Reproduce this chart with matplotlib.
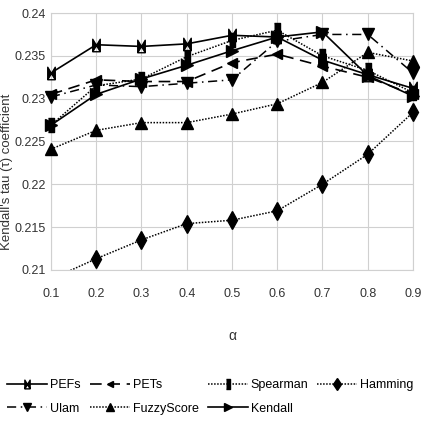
import numpy as np
import matplotlib
matplotlib.use("Agg")
from matplotlib import pyplot as plt

alpha = [0.1, 0.2, 0.3, 0.4, 0.5, 0.6, 0.7, 0.8, 0.9]

pefs = [0.2330, 0.2363, 0.2361, 0.2364, 0.2374, 0.2372, 0.2345, 0.2328, 0.2312]
pets = [0.2305, 0.2322, 0.2320, 0.2320, 0.2342, 0.2352, 0.2338, 0.2325, 0.2305]
spearman = [0.2269, 0.2315, 0.2323, 0.2349, 0.2368, 0.2380, 0.2350, 0.2333, 0.2307]
hamming = [0.2089, 0.2113, 0.2135, 0.2154, 0.2158, 0.2169, 0.2200, 0.2235, 0.2284]
ulam = [0.2302, 0.2316, 0.2314, 0.2318, 0.2322, 0.2367, 0.2375, 0.2375, 0.2330]
fuzzy = [0.2241, 0.2263, 0.2272, 0.2272, 0.2282, 0.2294, 0.2319, 0.2354, 0.2344]
kendall = [0.2269, 0.2305, 0.2323, 0.2339, 0.2356, 0.2372, 0.2378, 0.2327, 0.2303]

yticks = [0.21, 0.215, 0.22, 0.225, 0.23, 0.235, 0.24]
ytick_labels = ["0.21", "0.215", "0.22", "0.225", "0.23", "0.235", "0.24"]

plt.rcParams['font.family'] = ['Liberation Sans', 'DejaVu Sans']

# custom marker shapes
bowtie = [(-0.6, -1), (0, 0), (-0.6, 1), (-0.6, -1), (0.6, -1), (0, 0), (0.6, 1), (0.6, -1)]
tall_rect = [(-0.5, -1), (0.5, -1), (0.5, 1), (-0.5, 1)]

fig = plt.figure(figsize=(4.21, 4.21), dpi=100)
ax = fig.add_axes([0.121, 0.359, 0.86, 0.61])

styles = [
    ("PEFs", pefs, dict(ls='-', marker=bowtie, ms=9, lw=1.2)),
    ("PETs", pets, dict(ls=(0, (7, 4)), marker='<', ms=7, lw=1.2)),
    ("Spearman", spearman, dict(ls=(0, (1, 1)), marker=tall_rect, ms=10, lw=1.1)),
    ("Hamming", hamming, dict(ls=(0, (1, 1)), marker='d', ms=9, lw=1.1)),
    ("Ulam", ulam, dict(ls=(0, (6, 3, 1, 3)), marker='v', ms=8, lw=1.1)),
    ("FuzzyScore", fuzzy, dict(ls=(0, (1, 1)), marker='^', ms=8, lw=1.1)),
    ("Kendall", kendall, dict(ls='-', marker='>', ms=8, lw=1.2)),
]

handles = []
for name, vals, st in styles:
    st = dict(st)
    mk = st.pop('marker')
    ms = st.pop('ms')
    vals = np.array(vals)
    # line clipped to the axes, markers drawn on top unclipped where in range
    ax.plot(alpha, vals, color='black', clip_on=True, **st)
    inside = vals >= 0.21
    ax.plot(np.array(alpha)[inside], vals[inside], ls='none', marker=mk, ms=ms,
            color='black', clip_on=False, zorder=3)
    h, = ax.plot([], [], color='black', marker=mk, ms=ms, label=name, **st)
    handles.append(h)

ax.set_xlim(0.1, 0.9)
ax.set_ylim(0.21, 0.24)
ax.set_xticks(alpha)
ax.set_xticklabels([str(a) for a in alpha])
ax.set_yticks(yticks)
ax.set_yticklabels(ytick_labels)
ax.tick_params(length=0, labelsize=9, colors='#333333')
ax.tick_params(axis='x', pad=13)
ax.tick_params(axis='y', pad=4)
ax.grid(True, color='#d0d0d0', lw=0.8)
for s in ax.spines.values():
    s.set_color('#d0d0d0')
    s.set_linewidth(0.8)

ax.set_xlabel('α', fontsize=10, color='#333333')
ax.xaxis.set_label_coords(0.5, -0.23)
ax.set_ylabel("Kendall's tau (τ) coefficient", fontsize=9.5, color='#333333')
ax.yaxis.set_label_coords(-0.104, 0.38)

order = [0, 4, 1, 5, 2, 6, 3]
fig.legend([handles[i] for i in order], [styles[i][0] for i in order],
           loc='lower center', bbox_to_anchor=(0.5, -0.012), ncol=4, frameon=False,
           fontsize=9, handlelength=3.2, columnspacing=0.7, handletextpad=0.25,
           labelspacing=0.95, markerscale=0.7)

fig.savefig('out.png', dpi=100)
